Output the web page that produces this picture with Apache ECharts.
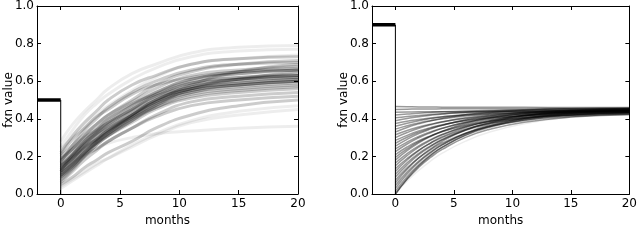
<!DOCTYPE html>
<html>
<head>
<meta charset="utf-8">
<script src="https://cdn.jsdelivr.net/npm/echarts@6/dist/echarts.min.js"></script>
<style>
html,body{margin:0;padding:0;background:#fff;}
#chart{width:640px;height:243px;}
</style>
</head>
<body>
<div id="chart"></div>
<script>
// ---- data ----
const months = [0, 1, 2, 3, 4, 6, 8, 11, 15, 20];
const xTicks = [0, 5, 10, 15, 20];
const yTicks = [0, 0.2, 0.4, 0.6, 0.8, 1.0];
const preMonths = [-2, 0];
const leftLevel = 0.5;
const rightLevel = 0.9;

const leftCurves = [
  [.12,.18,.24,.29,.34,.42,.49,.56,.59,.61],
  [.10,.16,.22,.28,.33,.41,.48,.55,.58,.60],
  [.14,.20,.26,.31,.36,.44,.51,.58,.61,.63],
  [.16,.22,.28,.33,.38,.45,.52,.59,.62,.64],
  [.08,.14,.20,.26,.31,.39,.46,.53,.56,.58],
  [.13,.19,.26,.32,.37,.45,.53,.60,.64,.66],
  [.18,.24,.30,.35,.40,.47,.54,.61,.64,.66],
  [.11,.16,.22,.27,.31,.38,.45,.51,.54,.56],
  [.15,.20,.26,.31,.35,.42,.49,.55,.58,.60],
  [.09,.15,.22,.28,.33,.42,.50,.57,.61,.63],
  [.20,.26,.32,.37,.42,.49,.56,.63,.66,.68],
  [.06,.12,.18,.23,.28,.35,.42,.49,.52,.54],
  [.17,.26,.34,.40,.46,.54,.60,.66,.69,.70],
  [.22,.31,.38,.44,.50,.58,.63,.69,.72,.73],
  [.25,.34,.42,.48,.53,.61,.67,.73,.76,.77],
  [.28,.37,.44,.50,.56,.64,.69,.75,.78,.79],
  [.05,.09,.14,.18,.22,.28,.35,.42,.47,.50],
  [.04,.08,.12,.16,.19,.25,.31,.38,.42,.45],
  [.10,.16,.21,.24,.27,.30,.32,.335,.35,.36],
  [.12,.17,.22,.27,.32,.40,.47,.56,.61,.65],
  [.07,.13,.20,.26,.31,.39,.47,.54,.58,.60],
  [.19,.24,.30,.34,.38,.45,.52,.57,.61,.62],
  [.14,.19,.25,.29,.33,.40,.46,.52,.55,.57],
  [.10,.15,.21,.27,.32,.41,.49,.58,.65,.69],
  [.16,.21,.27,.32,.36,.43,.50,.56,.59,.61],
  [.21,.29,.35,.41,.45,.53,.58,.62,.65,.66],
  [.03,.07,.11,.15,.19,.26,.32,.39,.44,.47],
  [.13,.19,.24,.29,.34,.41,.48,.54,.57,.59],
  [.11,.17,.24,.29,.34,.42,.50,.56,.60,.62],
  [.15,.21,.28,.33,.38,.47,.54,.61,.65,.67],
  [.09,.14,.20,.24,.28,.35,.41,.47,.50,.52],
  [.18,.24,.31,.37,.42,.50,.58,.65,.69,.71],
  [.24,.30,.36,.42,.47,.55,.62,.69,.72,.74],
  [.12,.21,.28,.34,.40,.48,.53,.59,.62,.63]
];

const rightCurves = [
  [0,.078,.142,.194,.237,.301,.343,.382,.409,.422],
  [.015,.092,.155,.207,.249,.312,.354,.393,.419,.432],
  [.03,.106,.169,.219,.261,.324,.365,.403,.429,.442],
  [.045,.117,.175,.223,.263,.321,.36,.396,.42,.433],
  [.06,.132,.192,.240,.280,.340,.379,.416,.44,.453],
  [.075,.139,.192,.235,.271,.323,.358,.391,.412,.424],
  [.09,.155,.209,.252,.288,.342,.377,.41,.432,.444],
  [.105,.166,.216,.256,.29,.339,.372,.403,.423,.434],
  [.12,.181,.231,.271,.305,.354,.387,.418,.438,.449],
  [.135,.189,.234,.27,.30,.345,.374,.402,.42,.43],
  [.15,.204,.249,.285,.315,.36,.389,.417,.435,.445],
  [.165,.215,.256,.289,.317,.357,.384,.409,.426,.435],
  [.18,.231,.272,.306,.334,.376,.403,.429,.446,.455],
  [.195,.24,.278,.308,.333,.37,.395,.417,.433,.44],
  [.21,.25,.283,.309,.331,.364,.386,.406,.419,.426],
  [.225,.266,.299,.326,.349,.382,.405,.425,.439,.446],
  [.24,.276,.306,.33,.35,.38,.40,.418,.43,.436],
  [.255,.291,.321,.345,.365,.395,.415,.433,.445,.451],
  [.27,.302,.328,.349,.366,.392,.41,.426,.436,.442],
  [.285,.312,.335,.353,.368,.39,.405,.418,.428,.432],
  [.30,.327,.35,.368,.383,.405,.42,.433,.443,.447],
  [.315,.338,.356,.371,.384,.402,.415,.426,.434,.438],
  [.33,.354,.373,.389,.402,.421,.434,.446,.454,.458],
  [.345,.363,.378,.39,.40,.415,.425,.434,.44,.443],
  [.36,.376,.39,.401,.41,.423,.432,.44,.446,.448],
  [.375,.387,.396,.404,.411,.420,.427,.433,.437,.439],
  [.39,.402,.411,.419,.426,.435,.442,.448,.452,.454],
  [.405,.412,.418,.423,.427,.433,.437,.441,.443,.444],
  [.42,.425,.43,.434,.437,.441,.444,.447,.449,.449],
  [.435,.436,.437,.437,.438,.438,.439,.439,.44,.44],
  [.45,.451,.452,.452,.453,.453,.454,.454,.455,.455],
  [.465,.464,.463,.463,.462,.462,.461,.461,.460,.460],
  [0,.069,.126,.175,.217,.281,.328,.374,.409,.429],
  [0,.081,.149,.203,.248,.315,.359,.40,.428,.442]
];

// ---- styles ----
const leftFaint = [14, 15, 17, 18, 26, 32];
const rightFaint = [32];
const FONT = 'DejaVu Sans';

function curveSeries(curves, axisIdx, faint, alpha, width) {
  return curves.map((c, i) => ({
    type: 'line',
    xAxisIndex: axisIdx, yAxisIndex: axisIdx,
    data: months.map((m, j) => [m, c[j]]),
    smooth: 0.5,
    symbol: 'none', silent: true,
    lineStyle: { color: '#000', opacity: faint.includes(i) ? 0.07 : alpha, width: width }
  }));
}
function stepSeries(level, axisIdx) {
  return [
    { type: 'line', xAxisIndex: axisIdx, yAxisIndex: axisIdx, symbol: 'none', silent: true,
      data: preMonths.map(m => [m, level]),
      lineStyle: { color: '#000', width: 3.5 }, z: 5 },
    { type: 'line', xAxisIndex: axisIdx, yAxisIndex: axisIdx, symbol: 'none', silent: true,
      data: [[0, level], [0, 0]],
      lineStyle: { color: '#000', width: 1 }, z: 5 }
  ];
}
function xAx(gridIndex, top) {
  return {
    type: 'value', gridIndex, position: top ? 'top' : 'bottom',
    min: -2, max: 20,
    name: top ? '' : 'months', nameLocation: 'middle', nameGap: 17,
    nameTextStyle: { fontFamily: FONT, fontSize: 12, color: '#000' },
    axisLine: { show: true, onZero: false, lineStyle: { color: '#000', width: 1 } },
    axisTick: { show: true, inside: true, length: 4, customValues: xTicks, lineStyle: { color: '#000' } },
    axisLabel: { show: !top, customValues: xTicks, margin: 4, fontFamily: FONT, fontSize: 12, color: '#000' },
    splitLine: { show: false }
  };
}
function yAx(gridIndex, right) {
  return {
    type: 'value', gridIndex, position: right ? 'right' : 'left',
    min: 0, max: 1, interval: 0.2,
    name: right ? '' : 'fxn value', nameLocation: 'middle', nameGap: 22,
    nameMoveOverlap: false,
    nameTextStyle: { fontFamily: FONT, fontSize: 12, color: '#000' },
    axisLine: { show: true, onZero: false, lineStyle: { color: '#000', width: 1 } },
    axisTick: { show: true, inside: true, length: 4, lineStyle: { color: '#000' } },
    axisLabel: { show: !right, margin: 3, fontFamily: FONT, fontSize: 12, color: '#000',
      formatter: v => v.toFixed(1) },
    splitLine: { show: false }
  };
}

const chart = echarts.init(document.getElementById('chart'), null, { renderer: 'canvas' });
chart.setOption({
  animation: false,
  backgroundColor: '#fff',
  grid: [
    { left: 37, right: 342, top: 5, bottom: 49 },
    { left: 372, right: 7, top: 5, bottom: 49 }
  ],
  xAxis: [xAx(0, false), xAx(0, true), xAx(1, false), xAx(1, true)],
  yAxis: [yAx(0, false), yAx(0, true), yAx(1, false), yAx(1, true)],
  series: [].concat(
    curveSeries(leftCurves, 0, leftFaint, 0.2, 3),
    stepSeries(leftLevel, 0),
    curveSeries(rightCurves, 2, rightFaint, 0.4, 1.5),
    stepSeries(rightLevel, 2)
  )
});
</script>
</body>
</html>
